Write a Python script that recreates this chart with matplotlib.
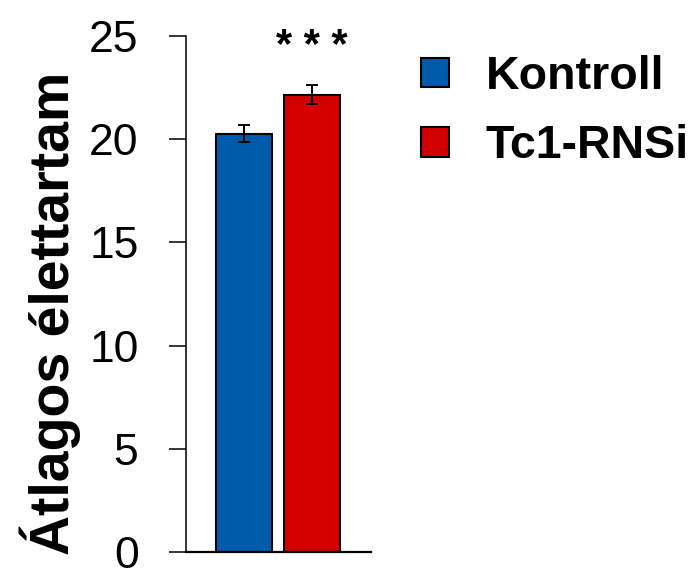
import numpy as np
import matplotlib
matplotlib.use('Agg')
import matplotlib.pyplot as plt

# Mean lifespan (days) with SEM
groups = ['Kontroll', 'Tc1-RNSi']
means = [20.26, 22.14]
errors = [0.40, 0.46]
colors = ['#005BAC', '#D20000']
y_ticks = [0, 5, 10, 15, 20, 25]
signif = '* * *'

fig = plt.figure(figsize=(6.93, 5.77), dpi=100)
ax = fig.add_axes([0.2684, 0.0426, 0.267, 0.8955])

xs = np.arange(len(groups))
bars = ax.bar(xs, means, width=0.83, color=colors, edgecolor='black', linewidth=1.5,
              yerr=errors, capsize=4.5,
              error_kw=dict(ecolor='black', elinewidth=1.4, capthick=1.4))
for b, lab in zip(bars, groups):
    b.set_label(lab)

ax.set_xlim(-0.859, 1.881)
ax.set_ylim(0, 25)
ax.set_yticks(y_ticks)
ax.set_xticks([])
ax.spines['top'].set_visible(False)
ax.spines['right'].set_visible(False)
ax.spines['left'].set_linewidth(1.1)
ax.spines['bottom'].set_linewidth(1.6)
ax.tick_params(axis='y', direction='out', length=12.2, width=1.1, pad=22)
for t in ax.get_yticklabels():
    t.set_family('Liberation Sans')
    t.set_fontsize(32)

# significance mark over the treated group
ax.text(xs[1], 24.45, signif, ha='center', va='center', fontsize=30, fontweight='bold',
        family='Liberation Sans', clip_on=False)

fig.text(0.072, 0.4575, 'Átlagos élettartam', rotation=90, ha='center', va='center',
         fontsize=40, fontweight='bold', family='Liberation Sans')

leg = ax.legend(handles=list(bars), loc='upper left', bbox_to_anchor=(0.607, 0.905),
                bbox_transform=fig.transFigure, frameon=False,
                prop=dict(family='Liberation Sans', weight='bold', size=33.5),
                handlelength=0.6, handleheight=0.6, handletextpad=0.8,
                labelspacing=0.55, borderpad=0, borderaxespad=0)

fig.savefig('out.png', dpi=100)
